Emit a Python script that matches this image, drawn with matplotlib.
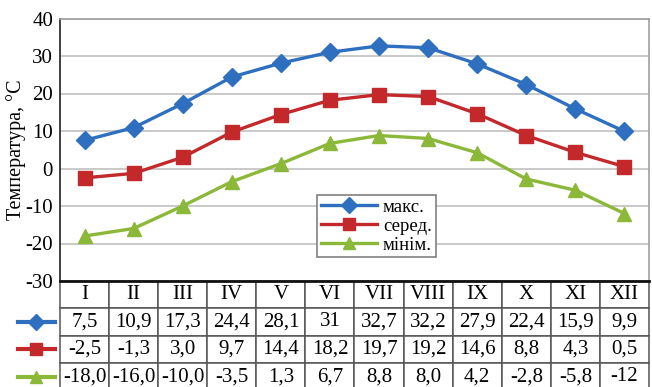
import numpy as np
import matplotlib
matplotlib.use("Agg")
import matplotlib.pyplot as plt
from matplotlib.lines import Line2D

plt.rcParams['font.family'] = ['Liberation Serif', 'DejaVu Serif']
plt.rcParams['axes.unicode_minus'] = False

MONTHS = ["I", "II", "III", "IV", "V", "VI", "VII", "VIII", "IX", "X", "XI", "XII"]
T_MAX = [7.5, 10.9, 17.3, 24.4, 28.1, 31, 32.7, 32.2, 27.9, 22.4, 15.9, 9.9]
T_MEAN = [-2.5, -1.3, 3.0, 9.7, 14.4, 18.2, 19.7, 19.2, 14.6, 8.8, 4.3, 0.5]
T_MIN = [-18.0, -16.0, -10.0, -3.5, 1.3, 6.7, 8.8, 8.0, 4.2, -2.8, -5.8, -12]
MAX_TXT = ["7,5", "10,9", "17,3", "24,4", "28,1", "31", "32,7", "32,2", "27,9", "22,4", "15,9", "9,9"]
MEAN_TXT = ["-2,5", "-1,3", "3,0", "9,7", "14,4", "18,2", "19,7", "19,2", "14,6", "8,8", "4,3", "0,5"]
MIN_TXT = ["-18,0", "-16,0", "-10,0", "-3,5", "1,3", "6,7", "8,8", "8,0", "4,2", "-2,8", "-5,8", "-12"]
LABELS = ["макс.", "серед.", "мінім."]

BLUE = "#2f6fbf"
RED = "#c3282b"
GREEN = "#8cb83a"
STYLES = [(BLUE, "D", 9), (RED, "s", 9.5), (GREEN, "^", 10)]

fig = plt.figure(figsize=(6.52, 3.87), dpi=100)
ax = fig.add_axes([60 / 652, 1 - 281 / 387, 589 / 652, 262.5 / 387])

x = np.arange(len(MONTHS))
for series, label, (col, mk, ms) in zip([T_MAX, T_MEAN, T_MIN], LABELS, STYLES):
    ax.plot(x, series, color=col, marker=mk, markersize=ms, lw=2.4, label=label,
            markeredgecolor=col)

ax.set_xlim(-0.5, len(MONTHS) - 0.5)
ax.set_ylim(-30, 40)
ax.set_yticks(np.arange(-30, 41, 10))
ax.set_xticks([])
ax.tick_params(axis='y', labelsize=15, length=0, pad=5)
ax.yaxis.grid(True, color="#c0c0c0", lw=1.2)
ax.set_axisbelow(True)
for s in ["top", "right"]:
    ax.spines[s].set_color("#a0a0a0")
    ax.spines[s].set_linewidth(1.2)
ax.spines["left"].set_color("#333333")
ax.spines["left"].set_linewidth(1.3)
ax.spines["bottom"].set_color("#111111")
ax.spines["bottom"].set_linewidth(2)
ax.set_ylabel("Температура, °C", fontsize=14.5)
ax.yaxis.set_label_coords(-0.058, 0.5)

leg = ax.legend(loc="lower left", bbox_to_anchor=(0.437, 0.09), fontsize=13.5,
                frameon=True, fancybox=False, edgecolor="#808080", framealpha=1,
                handlelength=3.0, borderpad=0.2, labelspacing=0.1, handletextpad=0.3,
                borderaxespad=0, markerscale=0.9)
leg.get_frame().set_linewidth(1.2)

# data table below the axis
rows = [MONTHS, MAX_TXT, MEAN_TXT, MIN_TXT]
row_h = 27.3 / 262.5
tbl = ax.table(cellText=rows, cellLoc="center",
               bbox=[0, -4 * row_h, 1, 4 * row_h])
tbl.auto_set_font_size(False)
for (r, c), cell in tbl.get_celld().items():
    cell.set_edgecolor("#555555")
    cell.set_linewidth(1.1)
    cell.get_text().set_fontsize(15)
    cell.get_text().set_fontfamily(['Liberation Serif', 'DejaVu Serif'])

# legend keys in front of table rows
for i, (col, mk, ms) in enumerate(STYLES):
    yc = -(i + 1.5) * row_h
    ax.add_line(Line2D([-0.072, -0.008], [yc, yc], transform=ax.transAxes, color=col,
                       lw=3, marker=None, clip_on=False))
    ax.add_line(Line2D([-0.04], [yc], transform=ax.transAxes, color=col, marker=mk,
                       markersize=ms * 0.85, clip_on=False))

fig.savefig("out.png", dpi=100)
